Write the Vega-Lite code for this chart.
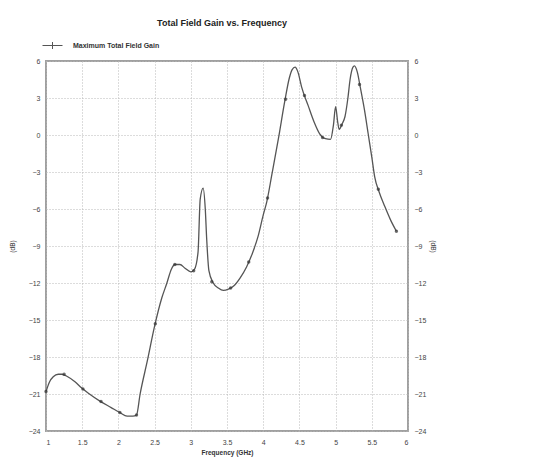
{
  "$schema": "https://vega.github.io/schema/vega-lite/v6.json",
  "width": 362,
  "height": 370,
  "autosize": {"type": "none"},
  "padding": {"left": 46, "top": 61, "right": 130, "bottom": 38},
  "background": "white",
  "title": {"text": "Total Field Gain vs. Frequency", "fontSize": 9, "font": "Liberation Sans", "fontWeight": "bold", "color": "#222", "anchor": "middle", "offset": 7, "dx": -5},
  "config": {
    "view": {"stroke": "#a0a0a0", "strokeWidth": 2},
    "axis": {"labelFont": "Liberation Sans", "labelFontSize": 7, "labelColor": "#444", "titleFont": "Liberation Sans", "titleColor": "#333", "ticks": false, "domain": false, "gridColor": "#b8b8b8", "gridDash": [1, 2], "gridWidth": 1}
  },
  "datasets": {
    "curve": [
      {"f": 1.00, "g": -20.8}, {"f": 1.05, "g": -20.0}, {"f": 1.10, "g": -19.6}, {"f": 1.17, "g": -19.4},
      {"f": 1.22, "g": -19.4}, {"f": 1.30, "g": -19.6}, {"f": 1.40, "g": -20.0}, {"f": 1.49, "g": -20.5},
      {"f": 1.60, "g": -21.0}, {"f": 1.75, "g": -21.6}, {"f": 1.90, "g": -22.1}, {"f": 2.02, "g": -22.5},
      {"f": 2.12, "g": -22.8}, {"f": 2.20, "g": -22.8}, {"f": 2.25, "g": -22.7}, {"f": 2.30, "g": -21.0},
      {"f": 2.40, "g": -18.3}, {"f": 2.50, "g": -15.5}, {"f": 2.60, "g": -13.2}, {"f": 2.67, "g": -12.0},
      {"f": 2.73, "g": -10.9}, {"f": 2.78, "g": -10.5}, {"f": 2.85, "g": -10.5}, {"f": 2.92, "g": -10.8},
      {"f": 3.00, "g": -11.1}, {"f": 3.05, "g": -10.9}, {"f": 3.10, "g": -9.5}, {"f": 3.13, "g": -5.2},
      {"f": 3.17, "g": -4.3}, {"f": 3.20, "g": -6.0}, {"f": 3.22, "g": -8.5}, {"f": 3.25, "g": -11.0},
      {"f": 3.31, "g": -12.0}, {"f": 3.38, "g": -12.4}, {"f": 3.45, "g": -12.6}, {"f": 3.52, "g": -12.5},
      {"f": 3.60, "g": -12.2}, {"f": 3.68, "g": -11.6}, {"f": 3.77, "g": -10.7}, {"f": 3.85, "g": -9.6},
      {"f": 3.93, "g": -8.2}, {"f": 4.00, "g": -6.5}, {"f": 4.05, "g": -5.4}, {"f": 4.12, "g": -3.2},
      {"f": 4.21, "g": -0.3}, {"f": 4.30, "g": 2.8}, {"f": 4.36, "g": 4.6}, {"f": 4.40, "g": 5.3},
      {"f": 4.44, "g": 5.5}, {"f": 4.48, "g": 5.1}, {"f": 4.53, "g": 3.9}, {"f": 4.62, "g": 2.4},
      {"f": 4.70, "g": 1.1}, {"f": 4.78, "g": 0.1}, {"f": 4.86, "g": -0.3}, {"f": 4.93, "g": -0.35},
      {"f": 4.97, "g": 0.8}, {"f": 5.00, "g": 2.3}, {"f": 5.03, "g": 1.0}, {"f": 5.05, "g": 0.45},
      {"f": 5.09, "g": 0.9}, {"f": 5.13, "g": 1.5}, {"f": 5.17, "g": 3.0}, {"f": 5.20, "g": 4.5},
      {"f": 5.24, "g": 5.5}, {"f": 5.26, "g": 5.6}, {"f": 5.30, "g": 5.1}, {"f": 5.34, "g": 3.9},
      {"f": 5.40, "g": 2.0}, {"f": 5.45, "g": 0.1}, {"f": 5.50, "g": -1.8}, {"f": 5.54, "g": -3.4},
      {"f": 5.60, "g": -4.6}, {"f": 5.68, "g": -5.8}, {"f": 5.76, "g": -6.9}, {"f": 5.84, "g": -7.8}
    ],
    "markers": [
      {"f": 1.00, "g": -20.8}, {"f": 1.25, "g": -19.4}, {"f": 1.51, "g": -20.6}, {"f": 1.76, "g": -21.6},
      {"f": 2.02, "g": -22.5}, {"f": 2.25, "g": -22.7}, {"f": 2.51, "g": -15.3}, {"f": 2.78, "g": -10.5},
      {"f": 3.04, "g": -11.0}, {"f": 3.29, "g": -11.9}, {"f": 3.55, "g": -12.4}, {"f": 3.80, "g": -10.3},
      {"f": 4.06, "g": -5.1}, {"f": 4.31, "g": 2.9}, {"f": 4.57, "g": 3.2}, {"f": 4.82, "g": -0.2},
      {"f": 5.08, "g": 0.8}, {"f": 5.33, "g": 4.1}, {"f": 5.59, "g": -4.4}, {"f": 5.84, "g": -7.8}
    ]
  },
  "encoding": {
    "x": {"field": "f", "type": "quantitative", "scale": {"domain": [1, 6], "nice": false}, "axis": {"values": [1, 1.5, 2, 2.5, 3, 3.5, 4, 4.5, 5, 5.5, 6], "format": "~g", "labelOverlap": false, "labelPadding": 7, "title": "Frequency (GHz)", "titleFontSize": 6.5, "titleFontWeight": "bold", "titlePadding": 4, "grid": true}}
  },
  "layer": [
    {
      "data": {"name": "curve"},
      "mark": {"type": "line", "strokeWidth": 1.3, "interpolate": "monotone"},
      "encoding": {
        "y": {"field": "g", "type": "quantitative", "scale": {"domain": [-24, 6], "nice": false}, "axis": {"orient": "left", "values": [-24, -21, -18, -15, -12, -9, -6, -3, 0, 3, 6], "labelPadding": 6, "title": "(dB)", "titleFontSize": 6.5, "titleFontWeight": "normal", "titlePadding": 13, "grid": true}},
        "color": {"datum": "Maximum Total Field Gain", "type": "nominal", "scale": {"range": ["#555555"]}, "legend": {"orient": "none", "legendX": -4, "legendY": -26, "title": null, "symbolType": "M-1,0H1M0,-0.35V0.35", "symbolSize": 400, "symbolStrokeWidth": 1, "labelFont": "Liberation Sans", "labelFontSize": 7, "labelFontWeight": "bold", "labelColor": "#333", "labelOffset": 10}}
      }
    },
    {
      "data": {"name": "markers"},
      "mark": {"type": "point", "filled": true, "size": 12, "color": "#333"},
      "encoding": {
        "y": {"field": "g", "type": "quantitative", "scale": {"domain": [-24, 6], "nice": false}, "axis": {"orient": "right", "values": [-24, -21, -18, -15, -12, -9, -6, -3, 0, 3, 6], "labelPadding": 6, "title": "(dB)", "titleFontSize": 6.5, "titleFontWeight": "normal", "titlePadding": 4, "grid": false}}
      }
    }
  ],
  "resolve": {"scale": {"y": "independent"}}
}
